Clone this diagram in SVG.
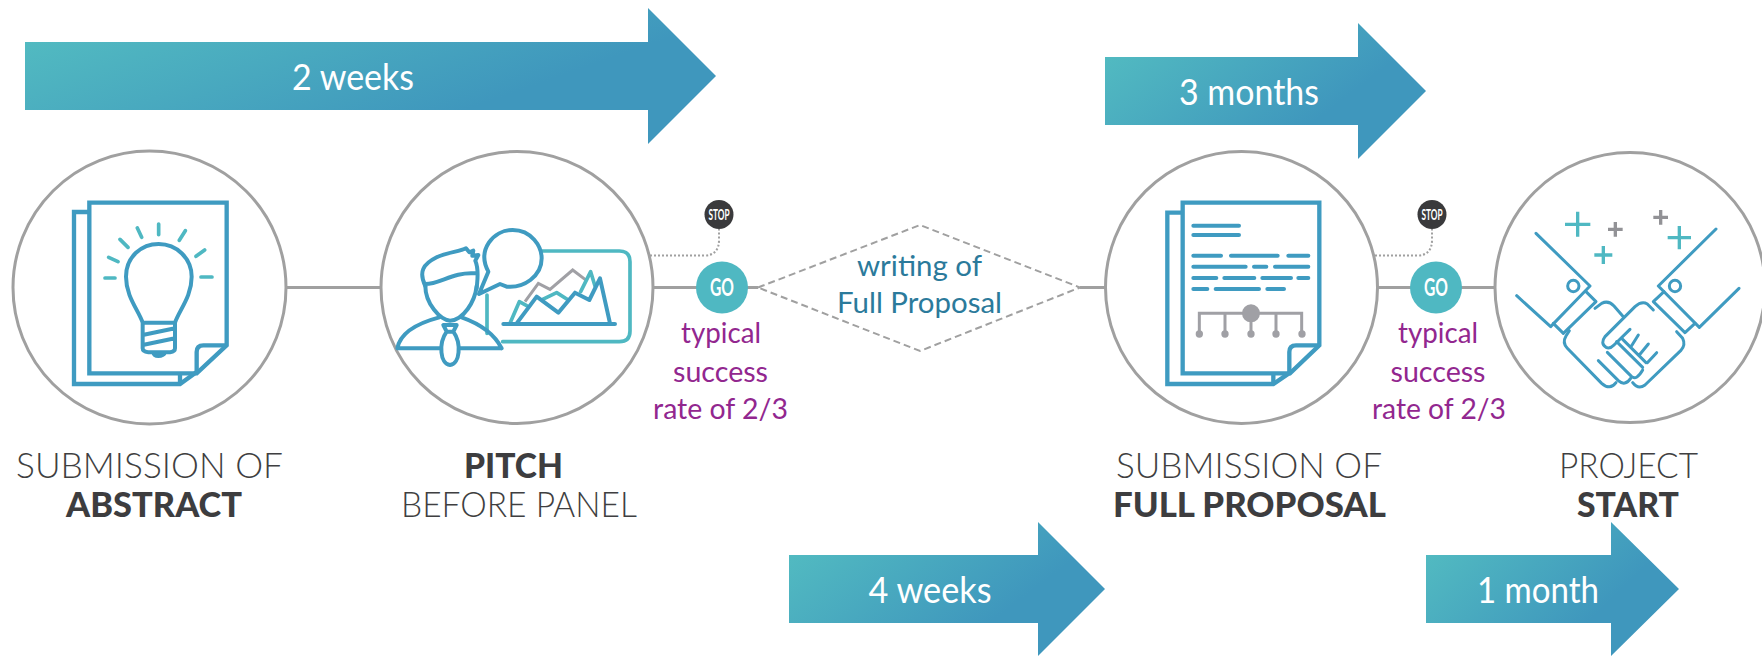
<svg xmlns="http://www.w3.org/2000/svg" width="1762" height="656" viewBox="0 0 1762 656">
<style>
text{font-family:Lato,"Open Sans","Liberation Sans",sans-serif;text-anchor:middle}
.ring{fill:#fff;stroke:#a0a0a0;stroke-width:3}
.link{fill:none;stroke:#a0a0a0;stroke-width:3}
.dash{fill:none;stroke:#a0a0a0;stroke-width:2;stroke-dasharray:7 4}
.dot{fill:none;stroke:#a0a0a0;stroke-width:2;stroke-dasharray:2 2}
.go{fill:#4fb8c2}.stop{fill:#3a3a3c}
.gt{fill:#fff;font-size:24px;font-weight:700}.st{fill:#fff;font-size:15px;font-weight:700}
.dur{fill:#fff;font-size:36px}
.lab{fill:#3f3f41;font-size:35px;font-weight:300}
.labb{fill:#3d3d3f;font-size:35px;font-weight:900}
.rate{fill:#92278f;font-size:29px}
.wr{fill:#2b7a9b;font-size:29px}
.b{fill:none;stroke:#3f9bc1;stroke-width:12;stroke-linejoin:round;stroke-linecap:round}
.t{fill:none;stroke:#4fb8c2;stroke-width:11;stroke-linecap:round;stroke-linejoin:round}
.g{fill:none;stroke:#a0a0a5;stroke-width:9}
.gf{fill:#a0a0a5}
.d{fill:none;stroke:#3f9bc1;stroke-width:13;stroke-linejoin:miter}
.hand{fill:none;stroke:#3f9bc1;stroke-width:9;stroke-linejoin:round;stroke-linecap:round}
.ln{fill:none;stroke:#3f9bc1;stroke-width:12;stroke-linecap:round}
.pt{fill:none;stroke:#4fb8c2;stroke-width:10}.pg{fill:none;stroke:#929296;stroke-width:10}
.ar{fill:url(#grad)}
</style>
<defs>
<linearGradient id="grad" x1="0" y1="0.2" x2="0.72" y2="0.6">
<stop offset="0" stop-color="#52bbc1"/><stop offset="1" stop-color="#3f97bd"/>
</linearGradient>
</defs>
<g id="connectors">
<path class="link" d="M286 287.5H381M653 287.5H700M744 287.5H758M1080 287.5H1106M1377 287.5H1412M1460 287.5H1495"/>
<path class="dot" d="M650 255.5H704Q719 255.5 719 240V229M1375 255.5H1417Q1432 255.5 1432 240V229"/>
</g>
<g id="arrow-2-weeks"><path class="ar" d="M25 42H648V8L716 76L648 144V110H25Z"/><text class="dur" x="353" y="90" textLength="122" lengthAdjust="spacingAndGlyphs">2 weeks</text></g>
<g id="arrow-3-months"><path class="ar" d="M1105 57H1358V23L1426 91L1358 159V125H1105Z"/><text class="dur" x="1249" y="105" textLength="140" lengthAdjust="spacingAndGlyphs">3 months</text></g>
<g id="arrow-4-weeks"><path class="ar" d="M789 555H1038V522L1105 589L1038 656V623H789Z"/><text class="dur" x="930" y="603" textLength="123" lengthAdjust="spacingAndGlyphs">4 weeks</text></g>
<g id="arrow-1-month"><path class="ar" d="M1426 555H1611V522L1679 589L1611 656V623H1426Z"/><text class="dur" x="1538" y="603" textLength="122" lengthAdjust="spacingAndGlyphs">1 month</text></g>

<g id="node-abstract">
<circle class="ring" cx="149.5" cy="287.5" r="136.5"/>
<g transform="translate(0 160) scale(.33333)">
<path class="d" d="M267 156H222V672H540L590 636"/>
<path class="d" d="M680 128H268V640H590L680 556Z"/>
<path class="d" d="M680 556H610Q590 556 590 576V636"/>
<path class="d" d="M540 672V645"/>
<path class="b" stroke-width="10" d="M428 488C415 450 378 410 378 350C378 290 425 252 476 252C530 252 575 295 575 350C575 410 538 450 525 488ZM428 488V565Q428 575 445 577H510Q525 575 525 565V488M428 525L525 505M428 555L525 535M460 578Q462 588 475 588Q490 588 495 578"/>
<path class="t" d="M476 192V224M412 204L425 232M360 238L384 262M326 292L354 305M315 354H345M556 212L538 241M614 270L588 289M603 351H636"/>
</g>
<text class="lab" x="149.5" y="478" textLength="267" lengthAdjust="spacingAndGlyphs">SUBMISSION OF</text>
<text class="labb" x="154" y="517" textLength="176" lengthAdjust="spacingAndGlyphs">ABSTRACT</text>
</g>

<g id="node-pitch">
<circle class="ring" cx="517" cy="287.5" r="136"/>
<g transform="translate(360 160) scale(.33333)">
<path class="t" d="M545 273H778Q810 273 810 305V513Q810 545 778 545H428M381 405V520"/>
<path class="g" d="M495 425L535 370L570 388L638 330L680 362"/>
<path class="t" d="M450 490L478 425L500 437M548 418L590 398L625 420M662 395L692 335L705 378"/>
<path class="b" d="M470 490L530 410L595 458L645 398L688 420L720 355L750 490M430 492H765"/>
<path class="b" d="M357 402L385 335C350 270 400 210 458 210C515 210 545 260 545 295C545 350 490 385 440 380L420 372Z"/>
<path class="b" d="M196 378C196 430 240 480 270 482C310 480 345 425 350 378"/>
<path class="b" d="M196 378C175 335 190 312 230 292C260 277 300 275 318 265L328 277L340 272L337 287L355 285L346 302C358 330 352 360 350 385M196 372C240 372 280 335 345 340"/>
<path class="b" d="M112 565C120 520 170 490 238 472M305 472C350 488 400 515 425 565M112 565H240M300 565H425"/>
<path class="b" d="M250 495H290L280 515H260ZM260 515C235 550 240 612 270 615C300 612 305 550 280 515"/>
</g>
<text class="labb" x="513.5" y="478" textLength="99" lengthAdjust="spacingAndGlyphs">PITCH</text>
<text class="lab" x="519" y="517" textLength="236" lengthAdjust="spacingAndGlyphs">BEFORE PANEL</text>
</g>

<g id="go-1"><circle class="go" cx="722" cy="287.5" r="26"/><text class="gt" x="722" y="296" textLength="24" lengthAdjust="spacingAndGlyphs">GO</text></g>
<g id="stop-1"><circle class="stop" cx="719" cy="214.5" r="14.5"/><text class="st" x="719" y="220" textLength="21" lengthAdjust="spacingAndGlyphs">STOP</text></g>
<g id="rate-1">
<text class="rate" x="721" y="343" textLength="80" lengthAdjust="spacingAndGlyphs">typical</text>
<text class="rate" x="720.5" y="382" textLength="95" lengthAdjust="spacingAndGlyphs">success</text>
<text class="rate" x="720.5" y="419" textLength="135" lengthAdjust="spacingAndGlyphs">rate of 2/3</text>
</g>

<g id="node-writing">
<path class="dash" d="M758 287.5L920 225L1080 287.5L920 351Z"/>
<text class="wr" x="919.5" y="276" textLength="125" lengthAdjust="spacingAndGlyphs">writing of</text>
<text class="wr" x="919.5" y="313" textLength="165" lengthAdjust="spacingAndGlyphs">Full Proposal</text>
</g>

<g id="node-full-proposal">
<circle class="ring" cx="1241.5" cy="287.5" r="136"/>
<g transform="translate(1140 190) scale(.33333)">
<path class="d" d="M128 68H82V582H400L450 548"/>
<path class="d" d="M538 38H128V550H450L538 466Z"/>
<path class="d" d="M538 466H468Q448 466 448 486V546"/>
<path class="d" d="M400 582V555"/>
<path class="ln" d="M160 107H297M160 135H297M160 197H243M273 197H413M445 197H505M160 230H317M342 230H379M405 230H505M160 264H229M253 264H343M367 264H453M475 264H505M160 297H202M227 297H357M382 297H432"/>
<path class="g" d="M178 432V370H485V432M255 370V432M333 370V432M408 370V432"/>
<circle class="gf" cx="333" cy="370" r="27"/><circle class="gf" cx="178" cy="432" r="11"/><circle class="gf" cx="255" cy="432" r="11"/><circle class="gf" cx="333" cy="432" r="11"/><circle class="gf" cx="408" cy="432" r="11"/><circle class="gf" cx="486" cy="432" r="11"/>
</g>
<text class="lab" x="1249" y="478" textLength="266" lengthAdjust="spacingAndGlyphs">SUBMISSION OF</text>
<text class="labb" x="1249.5" y="517" textLength="273" lengthAdjust="spacingAndGlyphs">FULL PROPOSAL</text>
</g>

<g id="go-2"><circle class="go" cx="1436" cy="287.5" r="26"/><text class="gt" x="1436" y="296" textLength="24" lengthAdjust="spacingAndGlyphs">GO</text></g>
<g id="stop-2"><circle class="stop" cx="1432" cy="214.5" r="14.5"/><text class="st" x="1432" y="220" textLength="21" lengthAdjust="spacingAndGlyphs">STOP</text></g>
<g id="rate-2">
<text class="rate" x="1438" y="343" textLength="80" lengthAdjust="spacingAndGlyphs">typical</text>
<text class="rate" x="1438" y="382" textLength="95" lengthAdjust="spacingAndGlyphs">success</text>
<text class="rate" x="1439" y="419" textLength="134" lengthAdjust="spacingAndGlyphs">rate of 2/3</text>
</g>

<g id="node-start">
<circle class="ring" cx="1630" cy="287.5" r="135"/>
<g transform="translate(1360 160) scale(.33333)">
<path class="pt" d="M615 193H691M653 155V230M703 285H757M730 258V312M923 233H993M958 198V268"/>
<path class="pg" d="M744 208H788M766 186V230M880 172H924M902 150V194"/>
<path class="hand" d="M528 220L690 378L572 500L470 407"/>
<path class="hand" d="M678 395L708 425L610 520L580 490"/>
<circle class="hand" cx="640" cy="378" r="17"/>
<path class="hand" d="M1068 207L895 378L1018 502L1137 385"/>
<path class="hand" d="M912 395L880 425L975 518L1005 490"/>
<circle class="hand" cx="945" cy="378" r="17"/>
<path class="hand" d="M705 445L725 430Q745 420 762 438L790 470"/>
<path class="hand" d="M628 512L618 528Q606 548 622 565L725 670Q750 692 768 668"/>
<path class="hand" d="M715 602L775 662Q795 680 812 655"/>
<path class="hand" d="M742 577L815 650Q830 662 848 630"/>
<path class="hand" d="M880 450L862 432Q845 422 825 440L735 530Q720 550 738 562Q750 568 762 555L810 508"/>
<path class="hand" d="M770 545L848 622"/>
<path class="hand" d="M785 535L858 608M812 562L835 525M838 585L865 552M862 608L890 578"/>
<path class="hand" d="M950 515L968 535Q978 555 962 572L855 675Q835 690 818 668"/>
</g>
<text class="lab" x="1628.5" y="478" textLength="139" lengthAdjust="spacingAndGlyphs">PROJECT</text>
<text class="labb" x="1628" y="517" textLength="102" lengthAdjust="spacingAndGlyphs">START</text>
</g>
</svg>
